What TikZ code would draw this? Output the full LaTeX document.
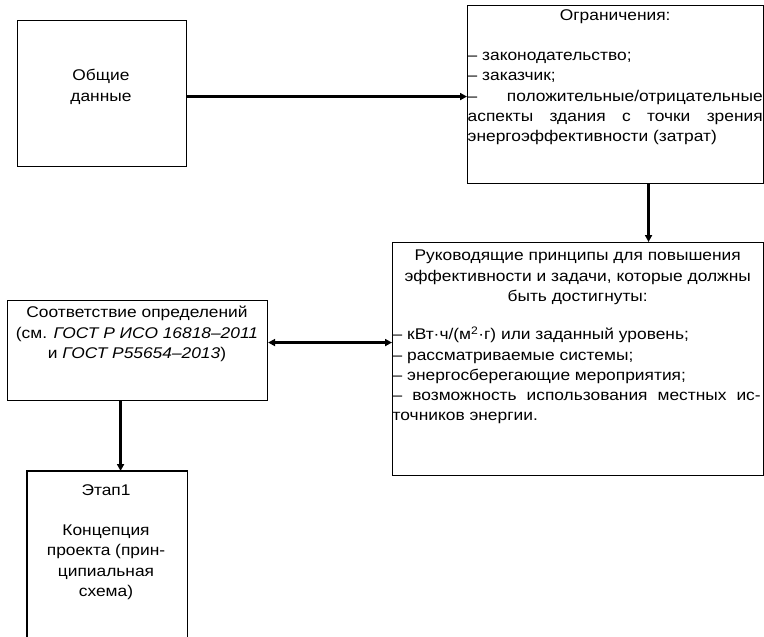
\documentclass[tikz,border=0pt]{standalone}
\usepackage{fontspec}
\setmainfont{Liberation Sans}[FakeStretch=1.12]
\usetikzlibrary{arrows.meta}
\begin{document}
\begin{tikzpicture}[x=1pt,y=-1pt,
  box/.style={draw, line width=1.1pt, inner sep=0pt, anchor=north west},
  txt/.style={inner sep=0pt, font=\fontsize{15.5}{20.3}\selectfont},
  conn/.style={line width=2.2pt, -{Triangle[length=7pt,width=7pt]}},
  conn2/.style={line width=2.2pt, {Triangle[length=7pt,width=7pt]}-{Triangle[length=7pt,width=7pt]}}]
\useasboundingbox (0,0) rectangle (764,637);
% boxes
\node[box, minimum width=169pt, minimum height=146pt] (gen) at (17,20) {};
\node[box, minimum width=296pt, minimum height=178pt] (lim) at (467,5) {};
\node[box, minimum width=371pt, minimum height=233pt] (goal) at (392,242) {};
\node[box, minimum width=260pt, minimum height=100pt] (conf) at (7,300) {};
\node[box, draw=none, minimum width=159pt, minimum height=172pt] (stage) at (27,471) {};
\draw[line width=1.1pt] (stage.south west) |- (stage.north east) -- (stage.south east);
% texts
\node[txt, align=center] (gentxt) at (101,87) {Общие\\данные};
\node[txt, anchor=north west, align=left] (limtxt) at (467.5,9) {%
\makebox[295pt][c]{Ограничения:}\\[20.3pt]
– законодательство;\\
– заказчик;\\
\makebox[295pt][s]{– положительные/отрицательные}\\
\makebox[295pt][s]{аспекты здания с точки зрения}\\
энергоэффективности (затрат)};
\node[txt, anchor=north west, align=left] (goaltxt) at (392.5,250) {%
\makebox[370pt][c]{Руководящие принципы для повышения}\\
\makebox[370pt][c]{эффективности и задачи, которые должны}\\
\makebox[370pt][c]{быть достигнуты:}\\[18pt]
– кВт·ч/(м\textsuperscript{2}·г) или заданный уровень;\\
– рассматриваемые системы;\\
– энергосберегающие мероприятия;\\
\makebox[368pt][s]{– возможность использования местных ис-}\\
точников энергии.};
\node[txt, anchor=north, align=center] (conftxt) at (137,306) {%
Соответствие определений\\
(см. \textit{ГОСТ Р ИСО 16818–2011}\\
и \textit{ГОСТ Р55654–2013})};
\node[txt, anchor=north, align=center] (stagetxt) at (106,484) {%
Этап1\\[20.3pt]
Концепция\\
проекта (прин-\\
ципиальная\\
схема)};
% connectors
\draw[conn] ([yshift=-3pt]gen.east) -- ([yshift=-3pt]gen.east -| lim.west);
\draw[conn] ([xshift=33pt]lim.south) -- ([xshift=33pt]lim.south |- goal.north);
\draw[conn2] ([yshift=8pt]conf.east) -- ([yshift=8pt]conf.east -| goal.west);
\draw[conn] ([xshift=-17pt]conf.south) -- ([xshift=-17pt]conf.south |- stage.north);
\end{tikzpicture}
\end{document}
